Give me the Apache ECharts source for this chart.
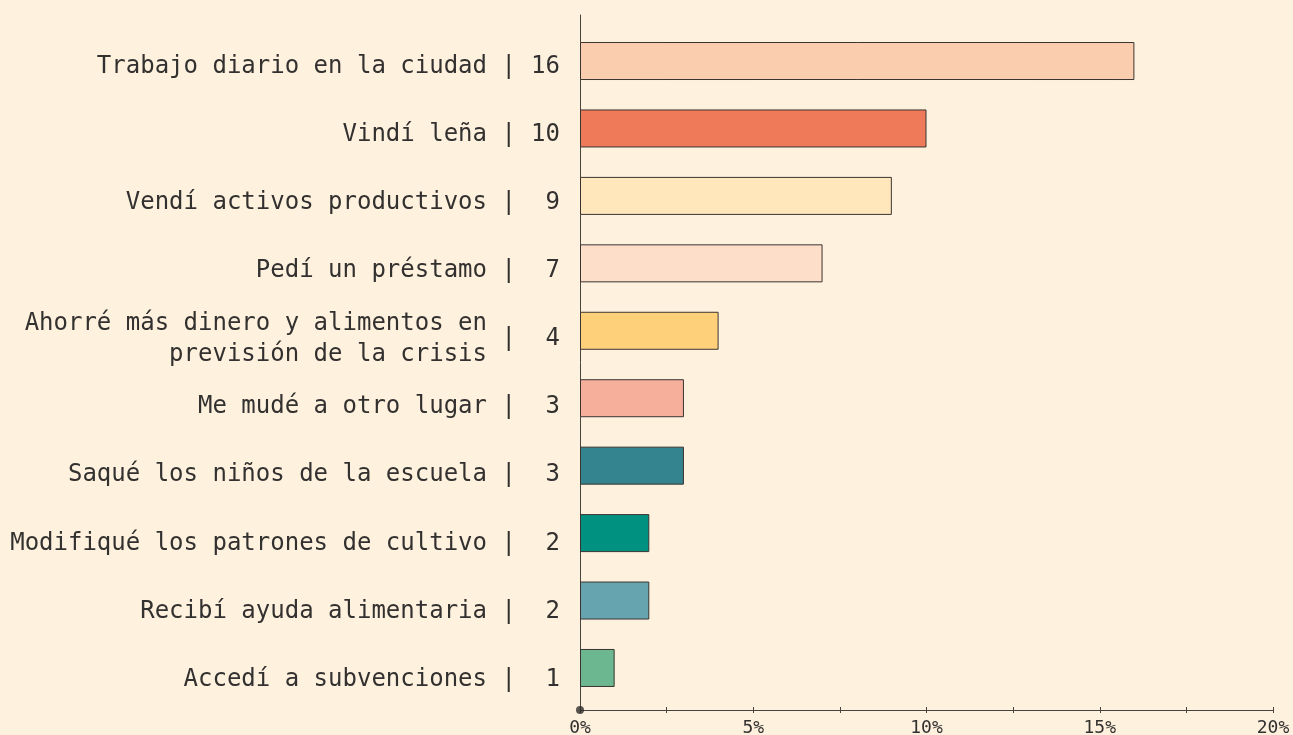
<!DOCTYPE html>
<html><head><meta charset="utf-8">
<script src="https://cdn.jsdelivr.net/npm/echarts@6/dist/echarts.min.js"></script>
<style>html,body{margin:0;padding:0;background:#FEF2DE}#c{width:1293px;height:735px}</style>
</head><body><div id="c"></div>
<script>
const categories = [
  'Trabajo diario en la ciudad',
  'Vindí leña',
  'Vendí activos productivos',
  'Pedí un préstamo',
  'Ahorré más dinero y alimentos en\nprevisión de la crisis',
  'Me mudé a otro lugar',
  'Saqué los niños de la escuela',
  'Modifiqué los patrones de cultivo',
  'Recibí ayuda alimentaria',
  'Accedí a subvenciones'
];
const counts = [16, 10, 9, 7, 4, 3, 3, 2, 2, 1];
const percents = [16, 10, 9, 7, 4, 3, 3, 2, 2, 1];
const barColors = ['#FBCDAF', '#EF7A5A', '#FFE6BB', '#FCDEC9', '#FED07A', '#F5AF9B', '#33848F', '#009180', '#66A5AF', '#6CB78F'];
const xTickLabels = ['0%', '5%', '10%', '15%', '20%'];
const origin = [[0, 0]];

const FONT = '"DejaVu Sans Mono", monospace';
const TEXT = '#333030';
const LINE = '#4a4440';

const chart = echarts.init(document.getElementById('c'), null, {renderer: 'canvas'});

const catAxis = (grid, margin, formatter) => ({
  type: 'category', gridIndex: grid, data: categories, inverse: true, position: 'left', offset: 0,
  axisLine: {show: false}, axisTick: {show: false}, splitLine: {show: false},
  axisLabel: {
    show: true, margin: margin, formatter: formatter, color: TEXT, fontFamily: FONT,
    fontSize: 24, lineHeight: 31, align: 'right', verticalAlign: 'middle'
  }
});

chart.setOption({
  backgroundColor: '#FEF2DE',
  animation: false,
  grid: [
    {left: 580, right: 20, top: 27.3, bottom: 33.3, outerBoundsMode: 'none', containLabel: false},
    {left: 580, right: 20, top: 15, bottom: 25, outerBoundsMode: 'none', containLabel: false},
    {left: 580, right: 20, top: 32.45, bottom: 21.45, outerBoundsMode: 'none', containLabel: false}
  ],
  xAxis: [
    {type: 'value', gridIndex: 0, min: 0, max: 20, show: false},
    {
      type: 'value', gridIndex: 1, min: 0, max: 20, interval: 2.5, position: 'bottom', offset: 0,
      axisLine: {show: true, lineStyle: {color: LINE, width: 1}},
      axisTick: {show: true, length: 3, lineStyle: {color: LINE, width: 1}},
      splitLine: {show: false},
      axisLabel: {
        margin: 9, color: TEXT, fontFamily: FONT, fontSize: 18,
        formatter: v => (v % 5 === 0 ? xTickLabels[v / 5] : ''),
        showMinLabel: true, showMaxLabel: true
      }
    },
    {type: 'value', gridIndex: 2, min: 0, max: 20, show: false},
    {
      type: 'value', gridIndex: 1, min: 0, max: 20, interval: 2.5, position: 'bottom', offset: 0,
      axisLine: {show: false},
      axisTick: {show: true, inside: true, length: 3, lineStyle: {color: LINE, width: 1}},
      axisLabel: {show: false}, splitLine: {show: false}
    }
  ],
  yAxis: [
    {type: 'category', gridIndex: 0, data: categories, inverse: true, show: false},
    catAxis(2, 93, v => v),
    catAxis(2, 64, () => '|'),
    catAxis(2, 20, (v, i) => String(counts[i])),
    {
      type: 'value', gridIndex: 1, min: 0, max: 1, position: 'left',
      axisLine: {show: true, lineStyle: {color: LINE, width: 1}},
      axisTick: {show: false}, axisLabel: {show: false}, splitLine: {show: false}
    }
  ],
  series: [
    {
      type: 'bar', xAxisIndex: 0, yAxisIndex: 0, barWidth: 38,
      data: percents.map((v, i) => ({value: v, itemStyle: {color: barColors[i]}})),
      itemStyle: {borderColor: '#3a3431', borderWidth: 1}
    },
    {
      type: 'scatter', xAxisIndex: 1, yAxisIndex: 4, data: origin,
      symbolSize: 8, itemStyle: {color: '#2f2a28'}, clip: false, silent: true, z: 10
    }
  ]
});
</script>
</body></html>
